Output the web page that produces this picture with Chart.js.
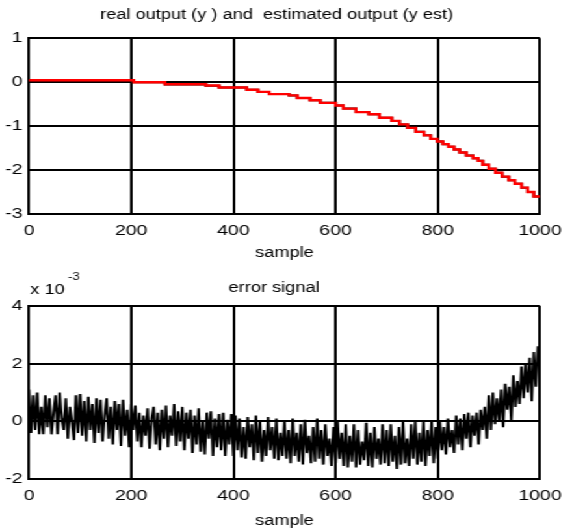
<!DOCTYPE html>
<html><head><meta charset="utf-8">
<script src="https://cdn.jsdelivr.net/npm/chart.js@4.4.0/dist/chart.umd.min.js"></script>
<style>
html,body{margin:0;padding:0;background:#fff;overflow:hidden;width:572px;height:531px}
#wrap{position:absolute;left:0;top:0;width:440px;height:531px;transform:scaleX(1.3);transform-origin:0 0}
#c1{position:absolute;left:0;top:0}
#c2{position:absolute;left:0;top:265px}
</style></head><body>
<div id="wrap"><canvas id="c1" width="440" height="265"></canvas><canvas id="c2" width="440" height="266"></canvas></div>
<script>
// ---- data ----
const xTicks = [0, 200, 400, 600, 800, 1000];
const yTicksTop = [1, 0, -1, -2, -3];
const yTicksErr = [4, 2, 0, -2];

// real output (y)
const realX = [0, 205, 266, 346, 372, 426, 448, 470, 509, 525, 550, 570, 600, 615, 640, 665, 686, 710, 725, 741, 757, 773, 786, 799, 810, 821, 832, 843, 856, 869, 879, 888, 900, 913, 926, 939, 951, 964, 976, 988, 1000];
const realY = [0.06, 0.046, 0.0, -0.05, -0.078, -0.12, -0.17, -0.22, -0.27, -0.30, -0.36, -0.41, -0.47, -0.53, -0.60, -0.68, -0.73, -0.81, -0.88, -0.96, -1.04, -1.13, -1.21, -1.29, -1.35, -1.41, -1.47, -1.53, -1.60, -1.67, -1.73, -1.79, -1.88, -1.97, -2.06, -2.15, -2.23, -2.31, -2.40, -2.50, -2.60];

// estimated output (y est) - staircase
const estX = [0, 205, 266, 346, 372, 426, 448, 470, 509, 525, 550, 570, 600, 615, 640, 665, 686, 710, 725, 741, 757, 773, 786, 799, 810, 821, 832, 843, 856, 869, 879, 888, 900, 913, 926, 939, 951, 964, 976, 988, 1000];
const estY = [0.06, 0.046, 0.0, -0.046, -0.076, -0.12, -0.17, -0.22, -0.27, -0.30, -0.36, -0.41, -0.47, -0.53, -0.60, -0.68, -0.73, -0.81, -0.88, -0.96, -1.04, -1.13, -1.21, -1.29, -1.35, -1.41, -1.47, -1.53, -1.60, -1.67, -1.73, -1.79, -1.88, -1.97, -2.06, -2.15, -2.23, -2.31, -2.40, -2.50, -2.60];

// error signal (units of 1e-3), one value every 4 samples
const errSampleStep = 4;
const errY = [
  1.1, -0.4, 0.9, -0.3, 1.0, -0.45, 0.5, -0.45, 0.9, -0.2, 0.8, -0.45, 0.3, 0.9, -0.45, 1.0, 0.1, -0.3, 0.8, -0.6, 0.5, 0.0, -0.65, 0.9, -0.4,
  0.95, -0.5, 0.7, -0.7, 0.85, -0.3, 0.6, -0.75, 0.8, -0.4, 0.75, -0.7, 0.2, 0.8, -0.6, 0.5, -0.8, 0.7, -0.3, 0.6, -0.85, 0.75, -0.5, 0.4, -0.9,
  0.6, -0.3, 0.55, -0.7, 0.3, -0.9, 0.2, -0.5, 0.45, -0.95, 0.1, 0.5, -0.8, 0.3, -1.0, 0.4, -0.6, 0.55, -0.9, 0.2, -0.5, 0.6, -0.85, 0.35, -0.7,
  0.5, -1.0, 0.3, -0.6, 0.4, -1.1, 0.2, -0.8, 0.45, -1.05, 0.0, -1.15, 0.3, -0.6, 0.35, -1.2, 0.1, -0.9, 0.25, -1.0, 0.3, -1.2, 0.05, -0.8, 0.25,
  -1.2, 0.2, -1.0, 0.1, -1.25, -0.2, -1.3, 0.15, -0.9, -0.1, -1.35, 0.2, -1.1, 0.0, -1.4, -0.3, -1.2, 0.15, -1.0, -0.2, -1.3, 0.1, -1.35, -0.4, -1.2,
  0.0, -1.3, -0.3, -1.45, 0.1, -1.2, -0.4, -1.4, -0.1, -1.5, 0.05, -1.1, -0.5, -1.45, -0.2, -1.4, 0.1, -1.3, -0.3, -1.5, -0.1, -1.2, -0.6, -1.55, -0.2,
  -1.45, 0.0, -1.3, -0.4, -1.55, -0.1, -1.6, -0.5, -1.4, -0.1, -1.6, -0.3, -1.5, -0.7, -1.35, -0.05, -1.55, -0.4, -1.6, -0.2, -1.3, -0.6, -1.5, -0.1, -1.45,
  -0.3, -1.55, -0.1, -1.4, -0.5, -1.65, -0.2, -1.5, 0.0, -1.45, -0.6, -1.55, -0.1, -1.3, 0.0, -1.5, -0.4, -1.4, 0.0, -1.55, -0.3, -1.2, 0.0, -1.45, -0.2,
  -1.3, 0.0, -1.0, -0.2, -1.15, 0.1, -0.9, -0.3, -1.1, 0.2, -0.8, 0.1, -1.0, 0.25, -0.6, 0.3, -0.9, 0.2, -0.5, 0.3, -0.8, 0.4, -0.3, 0.5, -0.6,
  0.9, -0.3, 1.0, -0.1, 0.8, 0.0, 1.1, -0.2, 1.3, 0.4, 1.2, 0.0, 1.6, 0.5, 1.4, 0.6, 1.9, 0.8, 2.0, 1.0, 2.2, 0.7, 2.4, 1.2, 2.6,
  1.8
];

// ---- rendering ----
const FONT = '"Liberation Sans", Arial, Helvetica, sans-serif';
Chart.defaults.font.family = FONT;
Chart.defaults.color = '#000';

const titlePlugin = {
  id: 'mtitle',
  afterDraw(chart, args, o) {
    const ctx = chart.ctx, a = chart.chartArea;
    ctx.save();
    ctx.fillStyle = '#000';
    ctx.textBaseline = 'middle';
    ctx.textAlign = 'center';
    ctx.font = '14px ' + FONT;
    ctx.fillText(o.text, (a.left + a.right) / 2 + o.dx, o.y);
    if (o.exp) {
      ctx.textAlign = 'left';
      ctx.fillText('x 10', a.left + 1, o.expY);
      ctx.font = '10px ' + FONT;
      ctx.fillText(o.exp, a.left + 30, o.expY - 13);
    }
    ctx.restore();
  }
};

function pts(xs, ys) { return xs.map((x, i) => ({x, y: ys[i]})); }
const errPts = errY.map((v, i) => ({x: i * errSampleStep, y: v}));

function axes(yMin, yMax, yTickVals, xTitlePad, xHeight) {
  const grid = {color: '#000', lineWidth: 2, drawTicks: false};
  return {
    x: {
      type: 'linear', min: 0, max: 1000,
      afterBuildTicks: s => { s.ticks = xTicks.map(v => ({value: v})); },
      afterFit: s => { s.height = xHeight; },
      grid, border: {display: true, color: '#000', width: 2},
      ticks: {font: {size: 15}, padding: 8, color: '#000', maxRotation: 0, callback: v => String(v)},
      title: {display: true, text: 'sample', font: {size: 14}, color: '#000', padding: {top: 0, bottom: xTitlePad}}
    },
    y: {
      type: 'linear', min: yMin, max: yMax,
      afterBuildTicks: s => { s.ticks = yTickVals.map(v => ({value: v})); },
      afterFit: s => { s.width = 22.3; },
      grid, border: {display: true, color: '#000', width: 2},
      ticks: {font: {size: 15}, padding: 5, color: '#000', callback: v => String(v)}
    }
  };
}

new Chart(document.getElementById('c1'), {
  type: 'line',
  data: {datasets: [
    {label: 'y est', data: pts(estX, estY), borderColor: '#ff0000', borderWidth: 2.4, pointRadius: 0, stepped: 'after', order: 1},
    {label: 'y', data: pts(realX, realY), borderColor: '#000', borderWidth: 2, pointRadius: 0, stepped: 'after', order: 2}
  ]},
  options: {
    responsive: false, animation: false, devicePixelRatio: 1,
    layout: {padding: {left: 0, right: 15.4, top: 38.3, bottom: 0}},
    plugins: {legend: {display: false}, tooltip: {enabled: false},
      mtitle: {text: 'real output (y ) and  estimated output (y est)', dx: -6, y: 15}},
    scales: axes(-3, 1, yTicksTop, 3, 265 - 214)
  },
  plugins: [titlePlugin]
});

new Chart(document.getElementById('c2'), {
  type: 'line',
  data: {datasets: [
    {label: 'error', data: errPts, borderColor: '#000', borderWidth: 2, pointRadius: 0, tension: 0}
  ]},
  options: {
    responsive: false, animation: false, devicePixelRatio: 1,
    layout: {padding: {left: 0, right: 15.4, top: 41, bottom: 0}},
    plugins: {legend: {display: false}, tooltip: {enabled: false},
      mtitle: {text: 'error signal', dx: -8, y: 23, exp: '-3', expY: 25}},
    scales: axes(-2, 4, yTicksErr, 1, 266 - 214)
  },
  plugins: [titlePlugin]
});
</script>
</body></html>
